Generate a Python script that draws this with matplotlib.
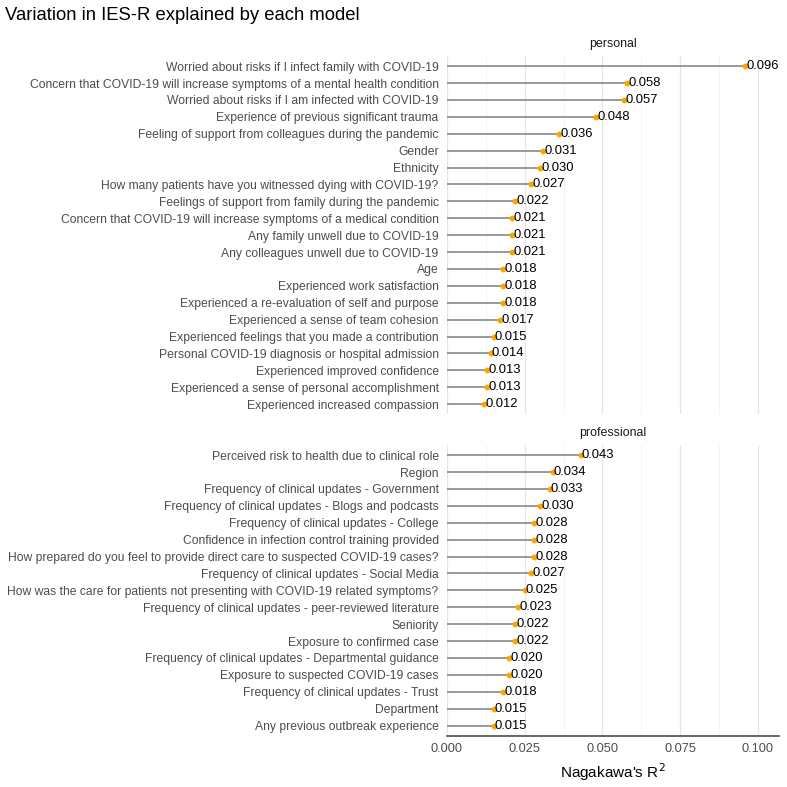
import matplotlib.pyplot as plt
from matplotlib import rcParams

rcParams['font.family'] = ['Liberation Sans', 'DejaVu Sans']

personal_labels = [
    'Worried about risks if I infect family with COVID-19',
    'Concern that COVID-19 will increase symptoms of a mental health condition',
    'Worried about risks if I am infected with COVID-19',
    'Experience of previous significant trauma',
    'Feeling of support from colleagues during the pandemic',
    'Gender',
    'Ethnicity',
    'How many patients have you witnessed dying with COVID-19?',
    'Feelings of support from family during the pandemic',
    'Concern that COVID-19 will increase symptoms of a medical condition',
    'Any family unwell due to COVID-19',
    'Any colleagues unwell due to COVID-19',
    'Age',
    'Experienced work satisfaction',
    'Experienced a re-evaluation of self and purpose',
    'Experienced a sense of team cohesion',
    'Experienced feelings that you made a contribution',
    'Personal COVID-19 diagnosis or hospital admission',
    'Experienced improved confidence',
    'Experienced a sense of personal accomplishment',
    'Experienced increased compassion',
]
personal_r2 = [0.096, 0.058, 0.057, 0.048, 0.036, 0.031, 0.030, 0.027, 0.022,
               0.021, 0.021, 0.021, 0.018, 0.018, 0.018, 0.017, 0.015, 0.014,
               0.013, 0.013, 0.012]

professional_labels = [
    'Perceived risk to health due to clinical role',
    'Region',
    'Frequency of clinical updates - Government',
    'Frequency of clinical updates - Blogs and podcasts',
    'Frequency of clinical updates - College',
    'Confidence in infection control training provided',
    'How prepared do you feel to provide direct care to suspected COVID-19 cases?',
    'Frequency of clinical updates - Social Media',
    'How was the care for patients not presenting with COVID-19 related symptoms?',
    'Frequency of clinical updates - peer-reviewed literature',
    'Seniority',
    'Exposure to confirmed case',
    'Frequency of clinical updates - Departmental guidance',
    'Exposure to suspected COVID-19 cases',
    'Frequency of clinical updates - Trust',
    'Department',
    'Any previous outbreak experience',
]
professional_r2 = [0.043, 0.034, 0.033, 0.030, 0.028, 0.028, 0.028, 0.027,
                   0.025, 0.023, 0.022, 0.022, 0.020, 0.020, 0.018, 0.015,
                   0.015]

x_ticks = [0.0, 0.025, 0.05, 0.075, 0.1]
x_ticklabels = ['0.000', '0.025', '0.050', '0.075', '0.100']

W = H = 787
fig = plt.figure(figsize=[7.87, 7.87], dpi=100)

x0, x1 = 447, 779
row = 16.9


def panel(top, labels, values, strip, bottom_axis):
    n = len(labels)
    h = (n - 1 + 1.2) * row
    ax = fig.add_axes([x0 / W, 1 - (top + h) / H, (x1 - x0) / W, h / H])
    ys = list(range(n))
    ax.hlines(ys, 0, values, color='#7f7f7f', lw=1.1, zorder=2)
    ax.scatter(values, ys, s=18, color='#FFA500', zorder=3, linewidths=0)
    for y, v in zip(ys, values):
        ax.text(v + 0.0004, y, f'{v:.3f}', va='center', ha='left',
                fontsize=9.4, color='black', zorder=4)
    ax.set_xlim(0, 0.1068)
    ax.set_ylim(n - 1 + 0.6, -0.6)
    ax.set_yticks(ys)
    ax.set_yticklabels(labels, fontsize=8.75, color='#4d4d4d')
    ax.set_xticks(x_ticks)
    ax.set_xticks([0.0125, 0.0375, 0.0625, 0.0875], minor=True)
    ax.grid(axis='x', which='major', color='#e6e6e6', lw=0.9, zorder=0)
    ax.grid(axis='x', which='minor', color='#f2f2f2', lw=0.6, zorder=0)
    ax.tick_params(axis='y', length=0, pad=6)
    ax.tick_params(axis='x', which='both', length=0)
    for s in ax.spines.values():
        s.set_visible(False)
    if bottom_axis:
        ax.spines['bottom'].set_visible(True)
        ax.spines['bottom'].set_color('#4d4d4d')
        ax.spines['bottom'].set_linewidth(1.2)
        ax.set_xticklabels(x_ticklabels, fontsize=9.2, color='#4d4d4d')
        ax.tick_params(axis='x', pad=5)
    else:
        ax.set_xticklabels([])
    fig.text((x0 + x1) / 2 / W, 1 - (top - 12) / H, strip, ha='center',
             va='center', fontsize=8.9, color='#1a1a1a')
    return ax


panel(56, personal_labels, personal_r2, 'personal', False)
panel(445, professional_labels, professional_r2, 'professional', True)

fig.text(5 / W, 1 - 15 / H, 'Variation in IES-R explained by each model',
         ha='left', va='center', fontsize=13.3, color='black')
fig.text((x0 + x1) / 2 / W, 1 - 772 / H, "Nagakawa's R$^2$", ha='center',
         va='center', fontsize=11, color='black')

plt.savefig('out.png', dpi=100)
